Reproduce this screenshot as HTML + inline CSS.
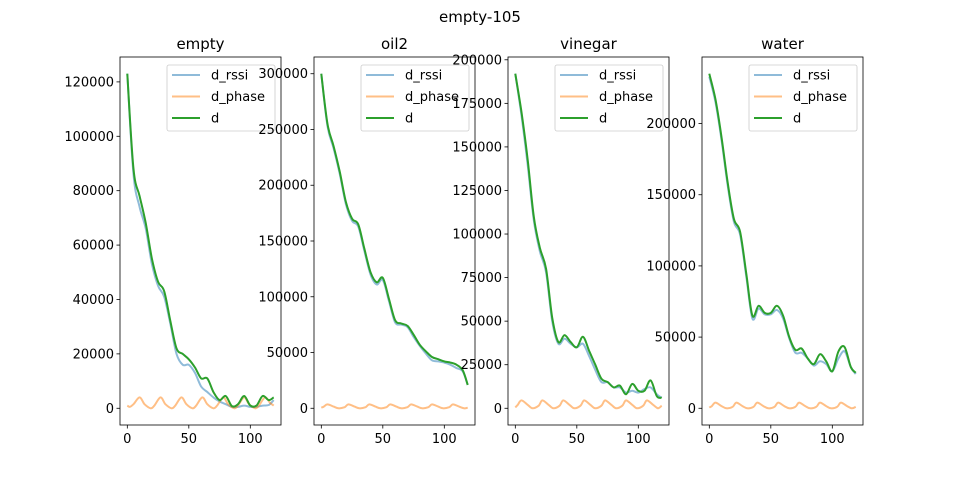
<!DOCTYPE html>
<html><head><meta charset="utf-8"><style>
body{margin:0;background:#fff}
svg{display:block;font-family:"DejaVu Sans","Liberation Sans",sans-serif}
</style></head><body>
<svg id="fig" width="960" height="479" viewBox="0 0 960 479">
<rect width="960" height="479" fill="#fff"/>
<text x="480" y="22" font-size="15" text-anchor="middle">empty-105</text>
</svg>
<script>
// ---- data (values in units, x = sample index) ----
const xs = [0,5,10,15,20,25,30,35,40,45,50,55,60,65,70,75,80,85,90,95,100,105,110,115,119];
const phaseX = [0,2,5,10,14,19,22,27,31,36,39,44,48,53,56,61,65,70,73,78,82,87,90,95,99,104,107,112,116,119];
const panelNames = ["empty","oil2","vinegar","water"];
const emptyD    = [123000,88000,78000,68000,55000,46500,43000,32000,22000,20000,18000,15000,11000,11000,6000,3000,4500,800,1500,4500,1000,1000,4500,3000,4000];
const emptyRssi = [123000,86000,74000,66000,53000,45000,41000,31000,20000,16000,16000,13000,8000,6000,4000,2500,1500,500,500,1000,500,500,1000,1200,3000];
const emptyPhase= [1000,500,1500,4000,1500,0,1000,4000,1500,0,1000,4000,1500,0,1000,4000,1500,0,1000,4000,1500,0,1000,4000,1500,0,1000,4000,2000,1000];
const oil2D     = [300000,255000,235000,212000,185000,170000,165000,143000,122000,113000,117000,98000,79000,76000,74000,66000,57000,51000,46000,44000,42000,41000,39000,34000,21000];
const oil2Rssi  = [300000,253000,233000,210000,183000,168000,163000,141000,120000,111000,115000,96000,77000,75000,73000,64000,56000,49000,43000,42000,41000,39000,36000,33000,21000];
const oil2Phase = [500,1500,3500,1500,0,1000,3500,1500,0,1000,3500,1500,0,1000,3500,1500,0,1000,3500,1500,0,1000,3500,1500,0,1000,3500,1500,0,500];
const vinD      = [192000,170000,143000,110000,92000,80000,52000,38000,42000,38000,35000,41000,33000,25000,17000,15000,12000,13000,8000,14000,10000,10000,16000,7000,6000];
const vinRssi   = [192000,168000,140000,108000,90000,78000,50000,37000,40000,37000,35000,37000,30000,22000,15000,15000,12000,12000,9000,10000,9000,11000,12000,8000,6000];
const vinPhase  = [500,2000,4500,2000,0,1500,4500,2000,0,1500,4500,2000,0,1500,4500,2000,0,1500,4500,2000,0,1500,4500,2000,0,1500,4500,2000,0,1500];
const watD      = [235000,217000,190000,158000,133000,124000,95000,65000,72000,67000,67000,72000,65000,50000,41000,42000,35000,31000,38000,33000,26000,40000,43000,29000,25000];
const watRssi   = [233000,215000,188000,156000,131000,122000,93000,63000,70000,66000,66000,69000,63000,49000,39000,39000,35000,30000,33000,31000,26000,35000,40000,29000,24000];
const watPhase  = [500,1500,4000,1500,0,1000,4000,1500,0,1000,4000,1500,0,1000,4000,1500,0,1000,4000,1500,0,1000,4000,1500,0,1000,4000,1500,0,1000];
const yTicks = [
  [0,20000,40000,60000,80000,100000,120000],
  [0,50000,100000,150000,200000,250000,300000],
  [0,25000,50000,75000,100000,125000,150000,175000,200000],
  [0,50000,100000,150000,200000]
];
const xTicks = [0,50,100];
const seriesD = [emptyD,oil2D,vinD,watD];
const seriesR = [emptyRssi,oil2Rssi,vinRssi,watRssi];
const seriesP = [emptyPhase,oil2Phase,vinPhase,watPhase];
const legendLabels = ["d_rssi","d_phase","d"];

// ---- layout ----
const NS="http://www.w3.org/2000/svg";
const svg=document.getElementById('fig');
const lefts=[120,314,508,702], W=161, TOP=57, H=368;
function el(tag,attrs,parent){const e=document.createElementNS(NS,tag);for(const k in attrs)e.setAttribute(k,attrs[k]);(parent||svg).appendChild(e);return e;}
function smooth(pts){let d="M"+pts[0][0].toFixed(1)+","+pts[0][1].toFixed(1);
  for(let i=0;i<pts.length-1;i++){const p0=pts[i-1]||pts[i],p1=pts[i],p2=pts[i+1],p3=pts[i+2]||p2;
    const c1=[p1[0]+(p2[0]-p0[0])/6,p1[1]+(p2[1]-p0[1])/6],c2=[p2[0]-(p3[0]-p1[0])/6,p2[1]-(p3[1]-p1[1])/6];
    d+="C"+c1[0].toFixed(1)+","+c1[1].toFixed(1)+" "+c2[0].toFixed(1)+","+c2[1].toFixed(1)+" "+p2[0].toFixed(1)+","+p2[1].toFixed(1);}
  return d;}

for(let p=0;p<4;p++){
  const L=lefts[p];
  const g=el('g',{});
  
  
  const all=seriesD[p].concat(seriesR[p],seriesP[p]);
  let mn=Math.min(...all),mx=Math.max(...all);const pad=(mx-mn)*0.05;const y0=mn-pad,y1=mx+pad;
  const x0=-5.95,x1=124.95;
  const sx=v=>L+(v-x0)/(x1-x0)*W, sy=v=>TOP+H-(v-y0)/(y1-y0)*H;
  const t=el('text',{x:L+W/2,y:49,'font-size':15,'text-anchor':'middle'},g);t.textContent=panelNames[p];
  
  
  yTicks[p].forEach(v=>{const y=sy(v);if(y<TOP-1||y>TOP+H)return;
    el('line',{x1:L-3.5,x2:L,y1:y,y2:y,stroke:'#000','stroke-width':0.8},g);
    const tt=el('text',{x:L-6,y:y+4.5,'font-size':13,'text-anchor':'end'},g);tt.textContent=v;
    
    });
  xTicks.forEach(v=>{const x=sx(v);
    el('line',{x1:x,x2:x,y1:TOP+H,y2:TOP+H+3.5,stroke:'#000','stroke-width':0.8},g);
    const tt=el('text',{x:x,y:TOP+H+18,'font-size':13,'text-anchor':'middle'},g);tt.textContent=v;
    
    });
  const cp=el('clipPath',{id:'c'+p},g);el('rect',{x:L,y:TOP,width:W,height:H},cp);
  const lg=el('g',{'clip-path':'url(#c'+p+')'},g);
  const r=el('path',{d:smooth(xs.map((x,i)=>[sx(x),sy(seriesR[p][i])])),fill:'none',stroke:'#1f77b4','stroke-opacity':0.5,'stroke-width':2},lg);
  
  
  const ph=el('path',{d:smooth(phaseX.map((x,i)=>[sx(x),sy(seriesP[p][i])])),fill:'none',stroke:'#ff7f0e','stroke-opacity':0.5,'stroke-width':2},lg);
  
  
  const d=el('path',{d:smooth(xs.map((x,i)=>[sx(x),sy(seriesD[p][i])])),fill:'none',stroke:'#2ca02c','stroke-width':2},lg);
  
  
  el('rect',{x:L,y:TOP,width:W,height:H,fill:'none',stroke:'#000','stroke-width':0.8},g);
  const lx=L+47;
  const leg=el('g',{},g);
  
  
  el('rect',{x:lx,y:65,width:108,height:66,rx:2,fill:'#fff','fill-opacity':0.8,stroke:'#ccc','stroke-width':0.8},leg);
  const cols=[['#1f77b4',0.5],['#ff7f0e',0.5],['#2ca02c',1]];
  legendLabels.forEach((lab,i)=>{const y=75+i*21.5;
    el('line',{x1:lx+5,x2:lx+33,y1:y,y2:y,stroke:cols[i][0],'stroke-opacity':cols[i][1],'stroke-width':2},leg);
    const tt=el('text',{x:lx+44,y:y+4.5,'font-size':13},leg);tt.textContent=lab;
    
    });
}
</script>
</body></html>
